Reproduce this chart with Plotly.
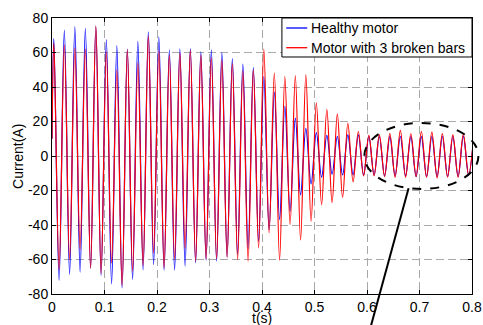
import plotly.graph_objects as go

# ---------------- data ----------------
series_names = ["Healthy motor", "Motor with 3 broken bars"]
series_colors = ["#0000FF", "#FF0000"]
x_title = "t(s)"
y_title = "Current(A)"

start_value_healthy = 10
start_value_broken = 10

# successive positive peaks of each current (A), one per 20 ms cycle
healthy_peaks = [68, 73, 75, 74, 75, 67.5, 64, 62, 66.5, 72, 69, 61.5, 62.1, 62.3,
                 60.4, 61.5, 60, 56.5, 53.3, 51.2, 46, 37, 29, 22, 16, 13.6, 11.9,
                 11.3, 12.3, 12.3, 11.3, 11.3, 11.2, 11.3, 11.2, 11.2, 11.3, 11.3,
                 11.3, 11.5, 11.5]
broken_peaks = [65.5, 64.5, 62.5, 62, 75.5, 60.5, 50, 61.5, 54, 69.5, 61, 58.5, 59.8,
                61.3, 58.5, 57.1, 55.6, 53.5, 49.2, 50, 62, 48, 46, 46.5, 47, 30.8,
                27.1, 24.4, 19, 14.2, 11.9, 12.3, 13, 14.8, 12.9, 14.2, 13.8, 13,
                12.3, 12.7, 12.5]

# successive negative peaks (troughs) of each current (A)
healthy_troughs = [-72, -68.7, -67.3, -65, -69.2, -74.2, -76.5, -71.5, -66, -63,
                   -66.2, -66.2, -63.8, -62, -60.4, -61, -58.5, -57, -53.7, -49.4,
                   -42.7, -36.9, -32.1, -22.5, -16.2, -12.3, -10.5, -11, -11, -11,
                   -11, -11.5, -11.5, -11.5, -11.9, -11.9, -11.9, -11.9, -11.9, -11]
broken_troughs = [-66, -60, -54, -65, -68, -62, -75, -66.7, -63.5, -56.2, -64.8,
                  -60, -53.5, -61, -59.6, -59.6, -58.7, -60, -61, -53.3, -44.6,
                  -60.4, -39.8, -48.8, -37.9, -28.3, -27, -24, -15, -11.5, -11.5,
                  -11.9, -12.3, -12.3, -11.9, -12.3, -12.7, -12.3, -12.3, -11]

# timing of the extremes (s)
period = 0.02
first_peak_time = 0.0035
first_trough_time = 0.0135

x_tick_values = [0, 0.1, 0.2, 0.3, 0.4, 0.5, 0.6, 0.7, 0.8]
x_tick_labels = ["0", "0.1", "0.2", "0.3", "0.4", "0.5", "0.6", "0.7", "0.8"]
y_tick_values = [-80, -60, -40, -20, 0, 20, 40, 60, 80]
y_tick_labels = ["-80", "-60", "-40", "-20", "0", "20", "40", "60", "80"]


def build_series(start, peaks, troughs):
    t = [0.0]
    y = [start]
    for k, p in enumerate(peaks):
        t.append(first_peak_time + period * k)
        y.append(p)
        if k < len(troughs):
            t.append(first_trough_time + period * k)
            y.append(troughs[k])
    return t, y


t_h, y_h = build_series(start_value_healthy, healthy_peaks, healthy_troughs)
t_b, y_b = build_series(start_value_broken, broken_peaks, broken_troughs)

FONT = "Liberation Sans, Arial, sans-serif"
TXT = dict(family=FONT, size=14, color="black")

fig = go.Figure()
fig.add_trace(go.Scatter(x=t_h, y=y_h, mode="lines", name=series_names[0], showlegend=False,
                         line=dict(color=series_colors[0], width=1.2, shape="spline", smoothing=1)))
fig.add_trace(go.Scatter(x=t_b, y=y_b, mode="lines", name=series_names[1], showlegend=False,
                         line=dict(color=series_colors[1], width=1.2, shape="spline", smoothing=1)))

axis_common = dict(
    showline=True, linecolor="black", linewidth=1, mirror="ticks",
    ticks="inside", ticklen=4, tickcolor="black",
    showgrid=True, gridcolor="#A8A8A8", griddash="8px,4px", gridwidth=1,
    zeroline=False, automargin=False, tickfont=TXT,
)

fig.update_xaxes(range=[0, 0.8], tickvals=x_tick_values, ticktext=x_tick_labels, **axis_common)
fig.update_yaxes(range=[-80, 80], tickvals=y_tick_values, ticktext=y_tick_labels, **axis_common)

# axis titles
fig.add_annotation(text=x_title, xref="paper", yref="paper", x=0.5, y=-0.087,
                   xanchor="center", yanchor="middle", showarrow=False, font=TXT)
fig.add_annotation(text=y_title, xref="paper", yref="paper", x=-0.081, y=0.5,
                   xanchor="center", yanchor="middle", textangle=-90,
                   showarrow=False, font=TXT)

# legend box (MATLAB style, top-right corner)
fig.add_shape(type="rect", xref="paper", yref="paper",
              x0=0.5474, x1=1.0, y0=0.8587, y1=1.0,
              fillcolor="white", line=dict(color="black", width=1), layer="above")
legend_rows_y = [0.9638, 0.8924]
for name, color, yy in zip(series_names, series_colors, legend_rows_y):
    fig.add_shape(type="line", xref="paper", yref="paper",
                  x0=0.5577, x1=0.6077, y0=yy, y1=yy,
                  line=dict(color=color, width=1.3), layer="above")
    fig.add_annotation(text=name, xref="paper", yref="paper", x=0.6125, y=yy,
                       xanchor="left", yanchor="middle", showarrow=False, font=TXT)

# highlight ellipse and pointer line (paper coordinates)
fig.add_shape(type="circle", xref="paper", yref="paper",
              x0=0.7436, x1=1.0153, y0=0.3804, y1=0.6196,
              line=dict(color="black", width=2, dash="dash"), layer="above")
fig.add_shape(type="line", xref="paper", yref="paper",
              x0=0.849, y0=0.383, x1=0.7586, y1=-0.12,
              line=dict(color="black", width=2), layer="above")

fig.update_layout(
    width=483, height=325,
    margin=dict(l=52, r=11, t=18, b=31),
    paper_bgcolor="white", plot_bgcolor="white",
    font=TXT,
    showlegend=False,
)

fig.write_html("out.html", config={"displayModeBar": False},
               post_script="document.body.style.margin='0';document.body.style.overflow='hidden';")
